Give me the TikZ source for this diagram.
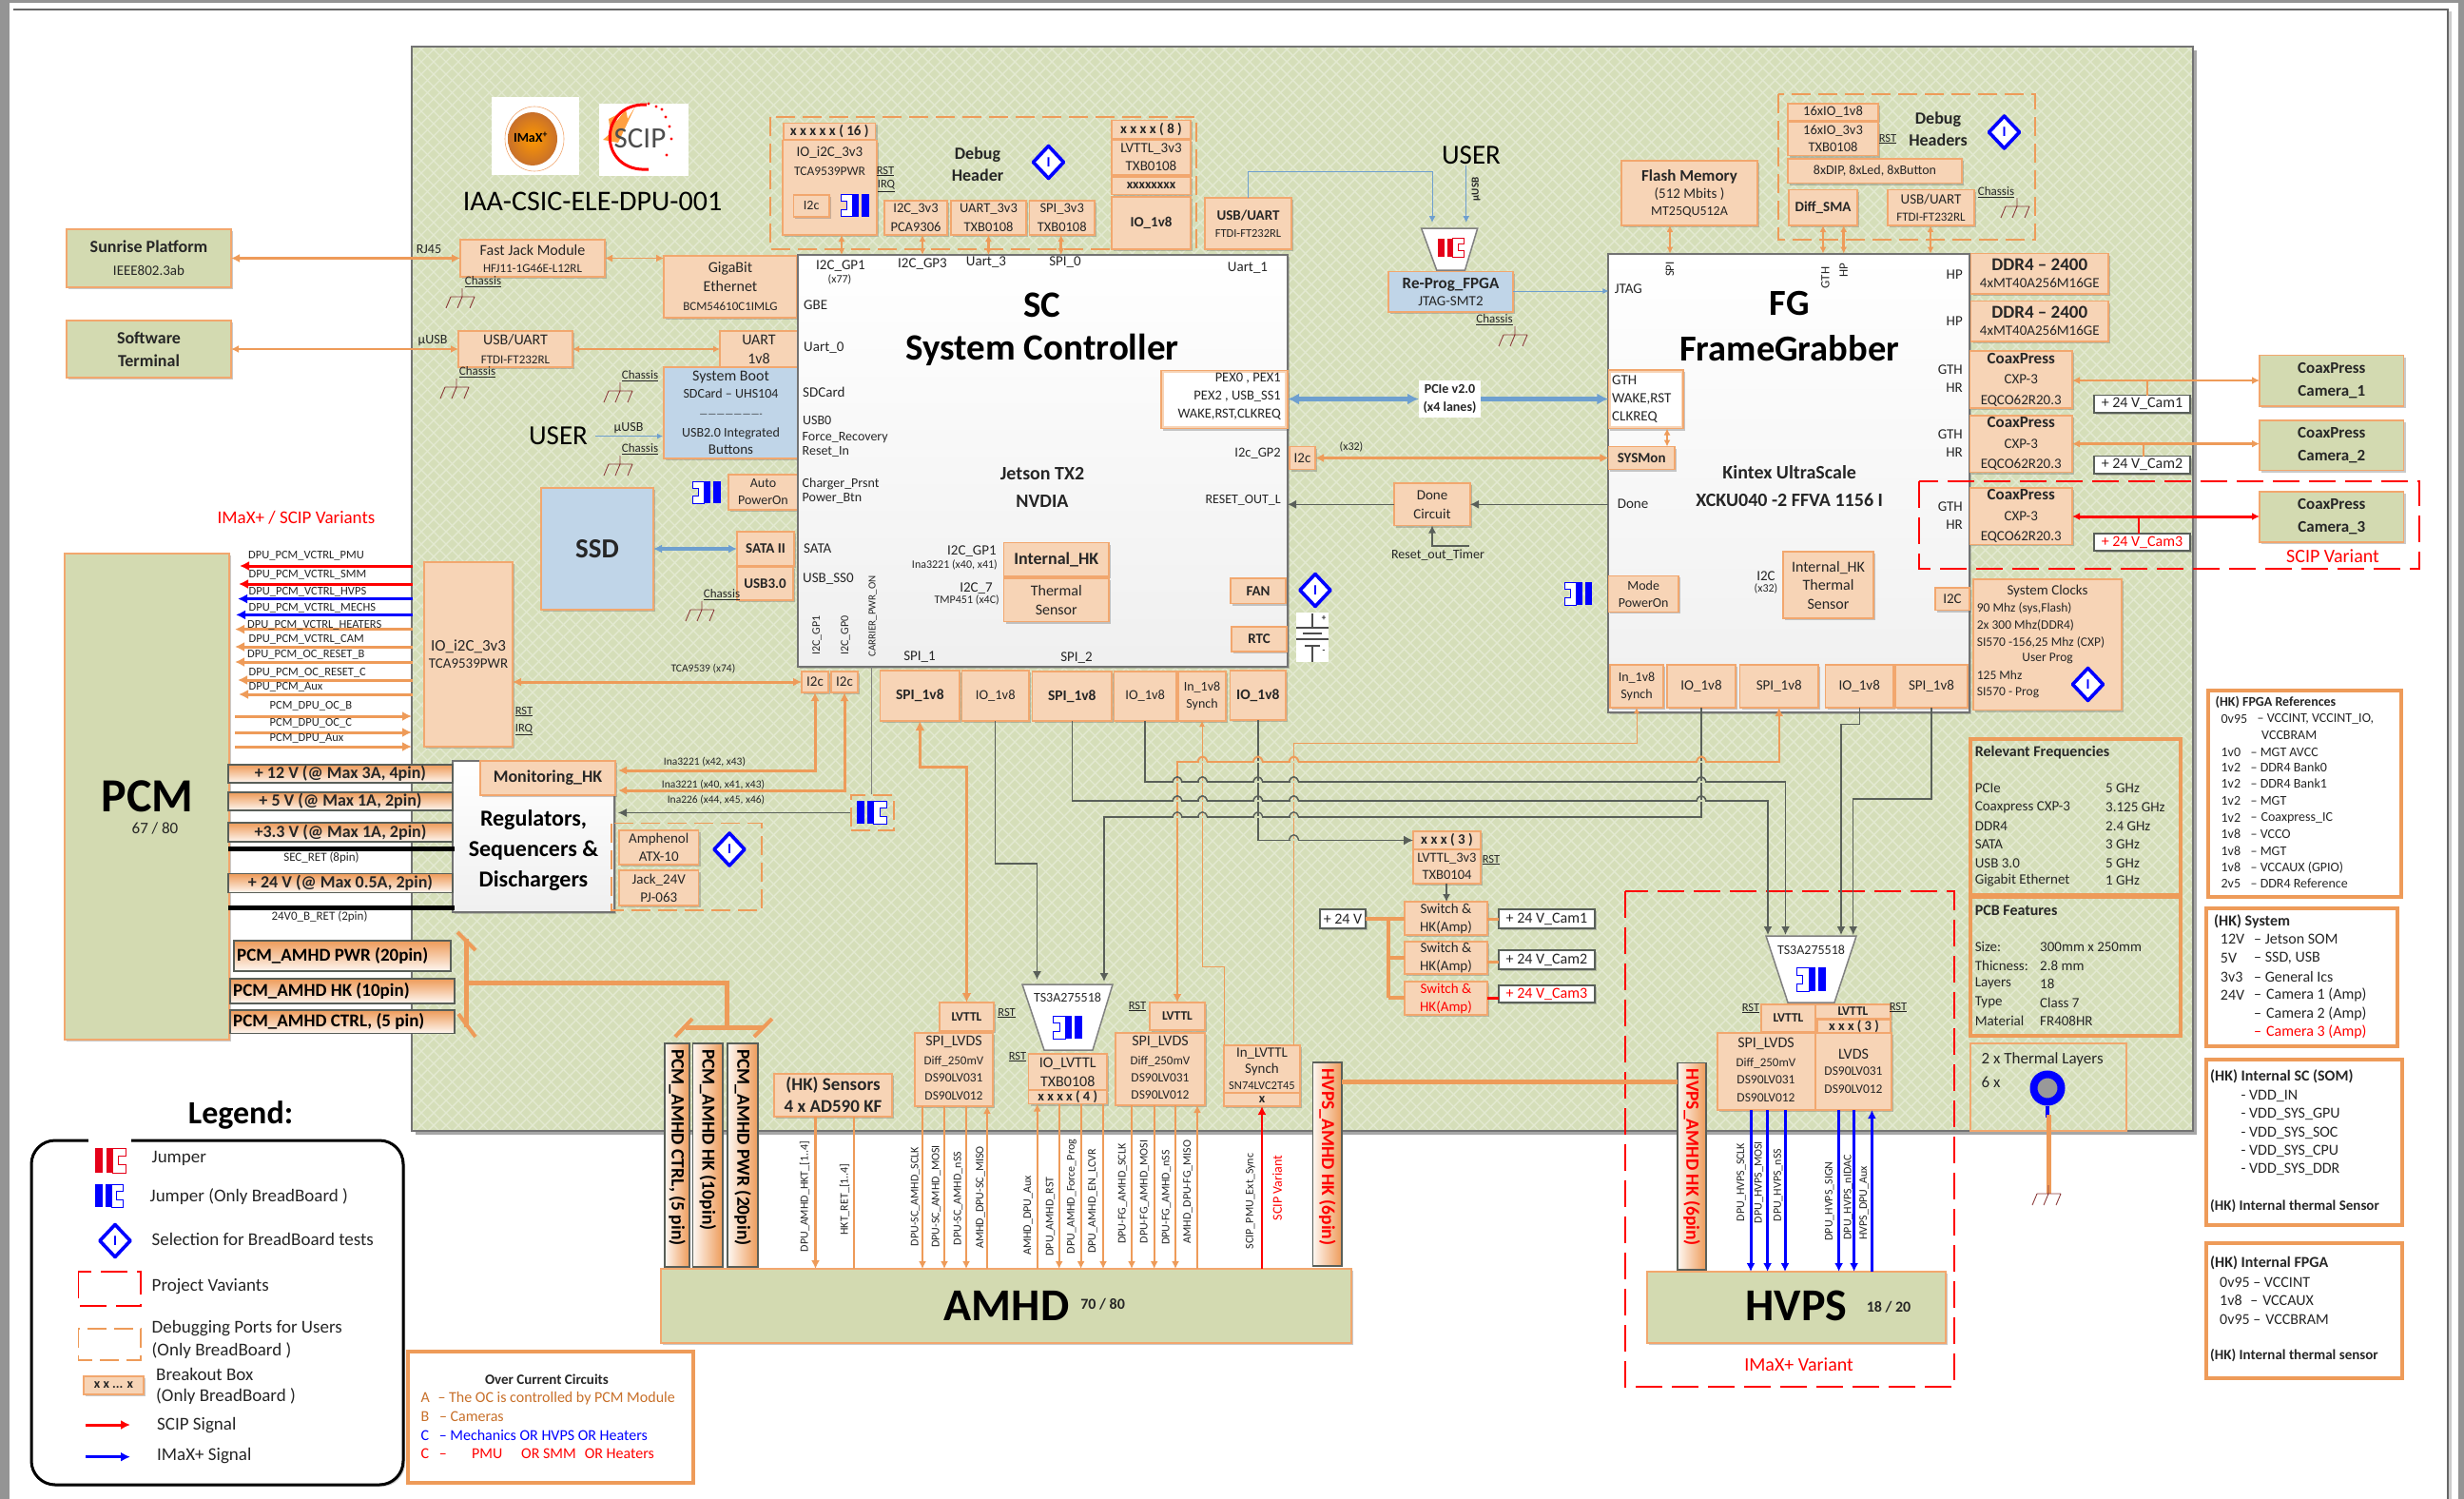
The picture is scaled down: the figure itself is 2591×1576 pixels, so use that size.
\documentclass[tikz,border=0pt]{standalone}
\usepackage{fontspec}
\setmainfont{Carlito}
\usetikzlibrary{arrows.meta,shadows}
\catcode`\_=12
\definecolor{ol}{HTML}{EE9B59}
\definecolor{obf}{HTML}{F7D4B6}
\definecolor{obd}{HTML}{F2A76E}
\definecolor{grn}{HTML}{D3DAB1}
\definecolor{bdg}{HTML}{D5DEB9}
\definecolor{lat}{HTML}{E3E9D1}
\definecolor{blu}{HTML}{C0D5E8}
\definecolor{pb}{HTML}{6E9FCF}
\definecolor{gk}{HTML}{595F59}
\definecolor{rd}{HTML}{FF0000}
\definecolor{bl}{HTML}{0000FF}
\definecolor{gndc}{HTML}{8B3A3A}
\definecolor{ogd}{HTML}{EE9B59}
\definecolor{brn}{HTML}{C8702A}
\newcounter{tc}
\tikzset{
 fs/.style 2 args={font=\fontsize{#1}{#2}\selectfont},
 fb/.style 2 args={font=\fontsize{#1}{#2}\selectfont\bfseries},
 txt/.style={inner sep=0pt,align=center,font=\fontsize{15}{18}\selectfont,text=black!85},
 shd/.style={drop shadow={shadow xshift=2pt,shadow yshift=-2pt,opacity=.35,fill=black!60}},
 bxb/.style={inner sep=0pt,outer sep=0pt,align=center,font=\fontsize{15}{18}\selectfont,text=black!85},
 obox/.style={bxb,draw=obd,fill=obf,line width=1.4pt,shd},
 gbox/.style={bxb,draw=obd,fill=grn,line width=1.4pt,shd},
 lbox/.style={bxb,draw=obd,fill=blu,line width=1.4pt,shd},
 wbox/.style={bxb,draw=gk,fill=white,line width=1.2pt,shd},
 rail/.style={bxb,draw=gk,line width=1.2pt,top color=ogd,bottom color=white!92!ogd},
 vrail/.style={bxb,draw=gk,line width=1.2pt,left color=white!92!ogd,right color=ogd},
 panel/.style={bxb,draw=ol,line width=4pt},
 chip/.style={bxb,draw=black!55,line width=2pt,top color=white,bottom color=black!6,shd},
 dashO/.style={draw=ol,line width=1.4pt,dash pattern=on 20pt off 8pt},
 dashR/.style={draw=rd,line width=1.4pt,dash pattern=on 28pt off 10pt},
 ah/.style={arrows={-{Latex[length=#1,width=#1]}}},
 ab/.style={arrows={{Latex[length=#1,width=#1]}-{Latex[length=#1,width=#1]}}},
 ta/.style={arrows={{Latex[length=#1,width=#1]}-}},
 co/.style={draw=ol,line width=#1},
 cg/.style={draw=gk,line width=#1},
 cr/.style={draw=rd,line width=#1},
 cb/.style={draw=bl,line width=#1},
 cp/.style={draw=pb,line width=#1},
}
\newcommand{\T}[4][]{\stepcounter{tc}\node[txt,#1] (t\arabic{tc}) at (#2,#3) {#4};}
\newcommand{\B}[7][obox]{\node[#1,minimum width={(#5-#3)*1pt},minimum height={(#6-#4)*1pt}] (#2) at ({(#3+#5)/2},{(#4+#6)/2}) {#7};}
\newcommand{\VC}[4][]{\draw[#1] (#2,0 |- #3) -- (#2,0 |- #4);}
\newcommand{\HC}[4][]{\draw[#1] (#3 |- 0,#2) -- (#4 |- 0,#2);}
\newcommand{\CN}[5][]{\stepcounter{tc}\coordinate (a\arabic{tc}) at (#2,#3);\coordinate (b\arabic{tc}) at (#4,#5);\draw[#1] (a\arabic{tc}) -- (b\arabic{tc});}
\newcommand{\gnd}[2]{\draw[gndc,line width=.9pt] (#1,#2) -- (#1,#2+9) (#1-12,#2+9) -- (#1+13,#2+9) (#1-12,#2+9) -- (#1-17,#2+21) (#1,#2+9) -- (#1-5,#2+21) (#1+13,#2+9) -- (#1+8,#2+21);}
\newcommand{\chas}[3]{\T[fs={13}{15}]{#1}{#2}{\underline{Chassis}}\gnd{#3}{#2+7}}
\newcommand{\lab}[3]{\T[fs={12.5}{15}]{#1}{#2}{\underline{#3}}}
\newcommand{\dia}[2]{\fill[white] (#1-16,#2) -- (#1,#2-17) -- (#1+16,#2) -- (#1,#2+17) -- cycle;
 \draw[bl,line width=3.6pt,line join=round] (#1-16,#2) -- (#1,#2-17) -- (#1+16,#2) -- (#1,#2+17) -- cycle;
 \T[fb={15}{15},text=bl]{#1}{#2}{I}}
\newcommand{\jmp}[6]{\begin{scope}[shift={({(#1+#3)/2},#2)},xscale={(#3-#1)*(#6)/100},yscale={(#4-#2)/100}]
 \fill[#5] (-50,0) rectangle (-24,100);\fill[#5] (-14,0) rectangle (8,100);
 \draw[#5,line width=1pt,fill=white] (8,0) -- (50,0) -- (50,32) -- (28,32) -- (28,68) -- (50,68) -- (50,100) -- (8,100) -- cycle;
 \end{scope}}
\newcommand{\bump}[4]{\draw[bdg,line width=#4pt] (#1-4,#2) -- (#1+4,#2);\draw[#3,line width=#4pt] (#1-5,#2) .. controls (#1-3,#2-7) and (#1+3,#2-7) .. (#1+5,#2);}
\begin{document}
\begin{tikzpicture}[x=1pt,y=-1pt]
\useasboundingbox (0,0) rectangle (2591,1576);
% page
\fill[black!42] (0,0) rectangle (2591,1576);
\fill[white] (10,3) rectangle (2585,1576);
\draw[black!60,line width=1.5pt] (14,10) -- (2574,10) -- (2574,1576);
\fill[black!20] (2575,12) rectangle (2578,1576);
% board
\fill[black!35] (437,53) rectangle (2310,1193);
\begin{scope}
\clip (433,49) rectangle (2306,1189);
\fill[bdg] (433,49) rectangle (2306,1189);
\foreach \k in {0,...,235}{
 \draw[lat,line width=1.4pt] (433+13*\k,49) -- ++(-1150,1150);
 \draw[lat,line width=1.4pt] (433-1150+13*\k,49) -- ++(1150,1150);
}
\end{scope}
\draw[black!55,line width=1.4pt] (433,49) rectangle (2306,1189);
% logos
\node[fill=white,inner sep=0pt,minimum width=92pt,minimum height=82pt] (imaxlogo) at (563,143) {};
\node[fill=white,inner sep=0pt,minimum width=94pt,minimum height=76pt] (sciplogo) at (677,147) {};
\draw[obd,line width=.6pt] (562,146) ellipse [x radius=31pt,y radius=34pt];
\shade[inner color=orange!80!yellow,outer color=brn] (560,146) ellipse [x radius=26pt,y radius=28pt];
\T[fb={14}{14},text=black]{558}{144}{IMaX\textsuperscript{+}}
\fill[orange!75] (640,125) -- (650,120) -- (648,128) -- (658,115) -- (660,125) -- (668,112) -- (650,150) -- (634,147) -- (642,140) -- cycle;
\draw[rd,line width=3pt] (680,110) .. controls (628,108) and (628,182) .. (682,178);
\foreach \a/\b in {682/109,690/112,696/115,700/123,704/133,706/146,701/163}{\fill[rd] (\a,\b) circle (1.6pt);}
\T[fs={31}{31},text=black!70]{673}{146}{SCIP}
\T[fs={30}{30},text=black]{623}{212}{IAA-CSIC-ELE-DPU-001}
% left external
\B[gbox,fb={18}{24}]{sunrise}{70}{241}{243}{302}{Sunrise Platform\\[0pt]\fontsize{15}{20}\selectfont\mdseries IEEE802.3ab}
\B[gbox,fb={18}{24}]{software}{70}{337}{243}{397}{Software\\Terminal}
\B{fastjack}{484}{252}{636}{291}{\fontsize{16}{19}\selectfont Fast Jack Module\\\fontsize{13}{18}\selectfont HFJ11-1G46E-L12RL}
\T[fs={14}{14}]{451}{262}{RJ45}
\chas{508}{296}{486}
\B[obox,fs={16}{20}]{gig}{698}{269}{838}{334}{GigaBit\\Ethernet\\\fontsize{13}{20}\selectfont BCM54610C1IMLG}
\B[obox,fs={16}{20}]{usbL}{482}{348}{602}{386}{USB/UART\\\fontsize{13}{20}\selectfont FTDI-FT232RL}
\B[obox,fs={16}{20}]{uart}{757}{348}{839}{386}{UART\\1v8}
\T[fs={14}{14}]{455}{358}{µUSB}
\chas{502}{391}{480}
\chas{673}{395}{652}
\chas{673}{472}{652}
\B[lbox]{boot}{698}{386}{839}{482}{\fontsize{16}{19}\selectfont System Boot\\\fontsize{14}{18}\selectfont SDCard – UHS104\\[2pt]\fontsize{10}{14}\selectfont ----------------------\\[3pt]\fontsize{14}{17}\selectfont USB2.0 Integrated\\\fontsize{15}{19}\selectfont Buttons}
\T[fs={29}{29},text=black]{587}{458}{USER}
\T[fs={14}{14}]{661}{450}{µUSB}
\CN[cp=1pt,ah=6pt]{626}{458.6}{697}{458.6}
\jmp{728}{506}{758}{529}{bl}{-1}
\B[obox,fs={14}{18}]{auto}{766}{499}{839}{536}{Auto\\PowerOn}
\B[lbox,fb={29}{29}]{ssd}{569}{513}{687}{641}{SSD}
\B[obox,fb={15}{15}]{sata}{775}{559}{835}{595}{SATA II}
\B[obox,fb={15}{15}]{usb3}{775}{596}{834}{631}{USB3.0}
\draw[cp=4pt,ab=9pt] (ssd.east |- sata.west) -- (sata.west);
\chas{759}{625}{738}
\T[fs={19}{19},text=rd]{311.5}{544.6}{IMaX+ / SCIP Variants}
\draw[co=3pt,ab=9pt] (sunrise.east) -- (fastjack.west);
\draw[co=1.5pt,ab=8pt] (fastjack.east) -- (fastjack.east -| gig.west);
\draw[co=2pt,ab=8pt] (software.east) -- (usbL.west);
\draw[co=1.2pt,ab=7pt] (usbL.east) -- (uart.west);
% PCM
\B[gbox]{pcm}{68}{582}{241}{1093}{}
\T[fb={50}{50},text=black]{155}{837}{PCM}
\T[fs={17}{17}]{163}{871}{67 / 80}
\B{iobig}{446}{591}{539}{785}{\fontsize{17}{22}\selectfont IO_i2C_3v3\\\fontsize{15}{20}\selectfont TCA9539PWR}
\lab{551}{748}{RST}
\lab{551}{767}{IRQ}
\newcommand{\SG}[6]{\CN[#1=3pt,ah=10pt]{434}{#3}{#2}{#3}\T[fs={12.5}{15},anchor=west]{#4}{#5}{#6}}
\SG{cr}{252}{595}{261}{584.5}{DPU_PCM_VCTRL_PMU}
\SG{cr}{251}{614}{261.5}{604}{DPU_PCM_VCTRL_SMM}
\SG{cb}{250}{629.6}{261.5}{622.7}{DPU_PCM_VCTRL_HVPS}
\SG{cb}{248}{646.4}{261.5}{639}{DPU_PCM_VCTRL_MECHS}
\SG{co}{247}{661.6}{260}{656.8}{DPU_PCM_VCTRL_HEATERS}
\SG{co}{247}{680}{261.5}{672}{DPU_PCM_VCTRL_CAM}
\SG{co}{247}{696}{260}{688.5}{DPU_PCM_OC_RESET_B}
\SG{co}{250}{715}{261.5}{707}{DPU_PCM_OC_RESET_C}
\SG{co}{251}{730}{261.5}{722.6}{DPU_PCM_Aux}
\newcommand{\SR}[3]{\CN[co=3pt,ah=10pt]{247}{#1}{433}{#1}\T[fs={12.5}{15},anchor=west]{283.5}{#2}{#3}}
\SR{753}{742}{PCM_DPU_OC_B}
\SR{770}{760}{PCM_DPU_OC_C}
\SR{785}{776}{PCM_DPU_Aux}
% regulators
\B[chip]{reg}{476}{800}{646}{959}{}
\T[fb={24}{32},text=black]{561}{894.5}{Regulators,\\Sequencers \&\\Dischargers}
\B[obox,fb={18}{18}]{mon}{505}{800}{647}{836}{Monitoring_HK}
\newcommand{\RL}[4]{\B[rail,fb={18}{18}]{#1}{240}{#2}{476}{#3}{#4}}
\RL{r12}{804}{823}{+ 12 V (@ Max 3A, 4pin)}
\RL{r5}{833}{852}{+ 5 V (@ Max 1A, 2pin)}
\RL{r33}{865}{885}{+3.3 V (@ Max 1A, 2pin)}
\RL{r24}{918.5}{938.5}{+ 24 V (@ Max 0.5A, 2pin)}
\CN[draw=black,line width=5pt]{240}{892}{478}{892}
\T[fs={13}{15}]{338}{902}{SEC_RET (8pin)}
\CN[draw=black,line width=5.5pt]{240}{954.6}{478}{954.6}
\T[fs={13}{15}]{336}{963.6}{24V0_B_RET (2pin)}
\B[rail]{apwr}{246}{989}{474}{1021}{}
\T[fb={19}{19},anchor=west,text=black]{249}{1005}{PCM_AMHD PWR (20pin)}
\B[rail]{ahk}{242}{1029}{478}{1055}{}
\T[fb={19}{19},anchor=west,text=black]{245}{1042}{PCM_AMHD HK  (10pin)}
\B[rail]{actrl}{242}{1062}{478}{1086.5}{}
\T[fb={19}{19},anchor=west,text=black]{245}{1074}{PCM_AMHD CTRL, (5 pin)}
\draw[co=5pt] (490,987) -- (490,1080);
\draw[co=4pt] (481,980) -- (500,999) (482,1066) -- (500,1090);
\draw[co=5pt] (490,1033) -- (764,1033) -- (764,1080);
\draw[co=5pt] (721,1080) -- (802,1080);
\draw[co=4pt] (728,1071) -- (710,1090) (812,1071) -- (793,1090);
% amphenol
\draw[dashO] (643,865.5) rectangle (801,957);
\B[obox,fs={15}{19}]{amp}{651}{873}{734.5}{909}{Amphenol\\ATX-10}
\B[obox,fs={15}{19}]{jack}{651}{915}{734.5}{952}{Jack_24V\\PJ-063}
\dia{767}{893}
% SC
\B[chip]{sc}{838.5}{268}{1354}{701}{}
% debug header
\draw[dashO] (810,123) rectangle (1258,262);
\B[obox,fb={15}{15}]{x16}{824}{129.5}{920.5}{147}{x x x x x ( 16 )}
\B{iodbg}{823}{147.6}{922}{247}{}
\T[fs={15}{18}]{872.5}{160}{IO_i2C_3v3}
\T[fs={13.5}{16}]{872.5}{180}{TCA9539PWR}
\B[obox,fs={14}{14}]{i2cd}{834.4}{205}{872}{228}{I2c}
\jmp{884}{204}{914}{228}{bl}{-1}
\lab{931}{180}{RST}
\lab{932}{195.5}{IRQ}
\T[fb={18}{23},text=black!85]{1028}{172.5}{Debug\\Header}
\dia{1102.5}{170.5}
\B[obox,fs={14.5}{20}]{d1}{930}{211}{996}{247}{I2C_3v3\\PCA9306}
\B[obox,fs={14.5}{20}]{d2}{1000}{211}{1079}{247}{UART_3v3\\TXB0108}
\B[obox,fs={14.5}{20}]{d3}{1082.4}{211}{1151}{247}{SPI_3v3\\TXB0108}
\B[obox,fb={15}{15}]{x8}{1169}{126.5}{1252}{145.5}{x x x x ( 8 )}
\B[obox,fs={15}{19}]{lv33}{1169}{147}{1252}{184}{LVTTL_3v3\\TXB0108}
\B[obox,fb={14}{14}]{x88}{1169}{186}{1252}{204.4}{xxxxxxxx}
\B[obox,fb={15}{15}]{io18}{1169}{207}{1252}{262}{IO_1v8}
\B{usbD}{1267}{208}{1358}{262}{\fontsize{15}{20}\selectfont\bfseries USB/UART\\\fontsize{12.5}{18}\selectfont FTDI-FT232RL}
\VC[co=2.5pt,ab=7pt]{885}{iodbg.south}{sc.north}
\VC[co=2.5pt,ab=7pt]{970}{d1.south}{sc.north}
\VC[co=2.5pt,ab=7pt]{1039.4}{d2.south}{sc.north}
\VC[co=2.5pt,ab=7pt]{1115.7}{d3.south}{sc.north}
% sc text
\T{884}{280}{I2C_GP1}
\T[fs={12}{14}]{883}{294}{(x77)}
\T{970}{278}{I2C_GP3}
\T{1037}{276}{Uart_3}
\T{1120}{276}{SPI_0}
\T{1312}{282}{Uart_1}
\T[anchor=west]{845}{321}{GBE}
\T[anchor=west]{845}{366}{Uart_0}
\T[anchor=west]{844}{412}{SDCard}
\T[anchor=west,fs={14}{16}]{844}{442}{USB0}
\T[anchor=west,fs={14}{16}]{843.5}{460}{Force_Recovery}
\T[anchor=west,fs={14}{16}]{843.5}{475}{Reset_In}
\T[anchor=west,fs={14}{16}]{843.5}{509}{Charger_Prsnt}
\T[anchor=west,fs={14}{16}]{843.5}{524}{Power_Btn}
\T[anchor=west]{845}{577}{SATA}
\T[anchor=west]{844}{609}{USB_SS0}
\T[fb={39}{39},text=black]{1096}{321}{SC}
\T[fb={39}{39},text=black]{1096}{368}{System Controller}
\T[fb={20}{20}]{1096}{498}{Jetson TX2}
\T[fb={20}{20}]{1096}{527}{NVDIA}
\T[rotate=90,fs={12}{12}]{859}{668}{I2C_GP1}
\T[rotate=90,fs={12}{12}]{889}{668}{I2C_GP0}
\T[rotate=90,fs={11}{11}]{917.7}{648}{CARRIER_PWR_ON}
\T{967}{691}{SPI_1}
\T{1132}{692}{SPI_2}
\T[anchor=east]{1048}{580}{I2C_GP1}
\T[anchor=east,fs={12}{14}]{1049}{594}{Ina3221 (x40, x41)}
\T[anchor=east]{1044}{618.5}{I2C_7}
\T[anchor=east,fs={12}{14}]{1051}{631}{TMP451 (x4C)}
\B[obox,fb={18}{18}]{ihk}{1055.5}{570.5}{1166}{606}{Internal_HK}
\B[obox,fs={16}{20}]{tsen}{1055.5}{608}{1166}{653.5}{Thermal\\Sensor}
\B[obox,fb={15}{15}]{fan}{1294}{608}{1352}{634.5}{FAN}
\B[obox,fb={15}{15}]{rtc}{1295}{659}{1353}{685}{RTC}
\dia{1383}{620.5}
\fill[white] (1362.6,644) rectangle (1397,696);
\draw[black!70,line width=1.2pt] (1380,645) -- (1380,660) (1363,660) -- (1397,660) (1370,666) -- (1390,666) (1363,672) -- (1397,672) (1372,679) -- (1388,679) (1380,679) -- (1380,696);
\T[fb={9}{9}]{1392}{650}{+}
\T[fb={9}{9}]{1392}{685}{-}
\B[obox]{pex}{1221}{389.6}{1354}{450.6}{}
\fill[white] (1224,392) rectangle (1351,448);
\T[anchor=east,fs={14.5}{17}]{1347}{398}{PEX0 , PEX1}
\T[anchor=east,fs={14.5}{17}]{1347}{416.5}{PEX2 , USB_SS1}
\T[anchor=east,fs={14.5}{17}]{1347}{436}{WAKE,RST,CLKREQ}
\T[anchor=east,fs={14.5}{17}]{1347}{477}{I2c_GP2}
\T[anchor=east,fs={14}{17}]{1347}{526}{RESET_OUT_L}
\B[obox,fs={15}{15}]{i2cS}{1356}{469.5}{1383}{493.5}{I2c}
\B[obox,fs={15}{15}]{i2c1}{843}{706}{871}{728}{I2c}
\B[obox,fs={15}{15}]{i2c2}{874}{706}{902}{728}{I2c}
\B[obox,fb={15.5}{15.5}]{spiA}{925.7}{705}{1009}{758}{SPI_1v8}
\B[obox,fs={14.5}{14.5}]{ioA}{1011.5}{705}{1082}{758}{IO_1v8}
\B[obox,fb={15.5}{15.5}]{spiB}{1085.6}{706}{1169}{758}{SPI_1v8}
\B[obox,fs={14.5}{14.5}]{ioB}{1171.4}{706}{1237}{758}{IO_1v8}
\B[obox,fs={14}{18}]{inS}{1239}{706}{1289}{758}{In_1v8\\Synch}
\B[obox,fb={15.5}{15.5}]{ioC}{1293.6}{705}{1352}{757}{IO_1v8}
% FG
\B[chip]{fg}{1691.4}{266.6}{2071}{748.7}{}
\B{flash}{1705}{169}{1848}{237}{\fontsize{17}{22}\selectfont\bfseries Flash Memory\\\fontsize{15}{22}\selectfont (512 Mbits )\\\fontsize{14}{22}\selectfont MT25QU512A}
\draw[dashO] (1870,99) rectangle (2140,252);
\B[obox,fs={14.5}{14.5}]{g1}{1880}{109}{1975}{127}{16xIO_1v8}
\B[obox,fs={14.5}{18}]{g2}{1880}{128}{1975}{163.5}{16xIO_3v3\\TXB0108}
\lab{1985}{146}{RST}
\T[fb={18}{23},text=black!85]{2038}{136}{Debug\\Headers}
\dia{2107.5}{139}
\B[obox,fs={14}{14}]{g3}{1880}{167}{2063}{192.5}{8xDIP, 8xLed, 8xButton}
\B[obox,fb={15}{15}]{diff}{1881}{199.6}{1953}{237}{Diff_SMA}
\B{usbF}{1985}{199.6}{2076}{237}{\fontsize{15}{19}\selectfont USB/UART\\\fontsize{13}{19}\selectfont FTDI-FT232RL}
\T[fs={13}{15}]{2099}{202}{\underline{Chassis}}
\gnd{2121}{208}
\VC[co=2.5pt,ab=7pt]{1756}{flash.south}{fg.north}
\VC[co=2.5pt,ab=7pt]{1917}{diff.south}{fg.north}
\VC[co=2.5pt,ab=7pt]{1938.7}{diff.south}{fg.north}
\VC[co=2.5pt,ab=7pt]{2030}{usbF.south}{fg.north}
\T[rotate=90,fs={13}{13}]{1756}{283}{SPI}
\T[rotate=90,fs={13}{13}]{1919.5}{292}{GTH}
\T[rotate=90,fs={13}{13}]{1938.7}{284.5}{HP}
\T{1712.4}{304}{JTAG}
\T[anchor=east]{2064}{289}{HP}
\T[anchor=east]{2064}{338}{HP}
\T[fb={38.5}{38.5},text=black]{1881.7}{319}{FG}
\T[fb={38.5}{38.5},text=black]{1881.7}{366.6}{FrameGrabber}
\B[obox]{gth}{1691.4}{389}{1770}{450.5}{}
\fill[white] (1694,391.5) rectangle (1767.5,448);
\T[anchor=west]{1695}{399.6}{GTH}
\T[anchor=west]{1695}{419.7}{WAKE,RST}
\T[anchor=west]{1695}{438.5}{CLKREQ}
\B[obox,fb={15}{15}]{sysmon}{1691.4}{469.5}{1761}{493.5}{SYSMon}
\VC[co=2.5pt,ab=7pt]{1753}{gth.south}{sysmon.north}
\T[fb={20}{20}]{1881.7}{496.5}{Kintex UltraScale}
\T[fb={20}{20}]{1881.7}{525.5}{XCKU040 -2 FFVA 1156 I}
\T{1717}{529.5}{Done}
\B[obox,fs={14}{18}]{mode}{1691.4}{605.4}{1765}{643.4}{Mode\\PowerOn}
\jmp{1645.6}{612}{1674}{636}{bl}{-1}
\T{1857}{605.4}{I2C}
\T[fs={12}{14}]{1857}{619}{(x32)}
\B[obox,fs={16}{19.5}]{ihkF}{1875}{580}{1970}{650}{Internal_HK\\Thermal\\Sensor}
\B[obox,fs={15}{15}]{i2cF}{2035}{618}{2071}{641.6}{I2C}
\B{clk}{2075}{609}{2231}{746.5}{}
\T[fs={15}{15}]{2153}{621.5}{System Clocks}
\T[anchor=west,fs={13.5}{15}]{2078.6}{640}{90 Mhz (sys,Flash)}
\T[anchor=west,fs={13.5}{15}]{2078.6}{657}{2x 300 Mhz(DDR4)}
\T[anchor=west,fs={13.5}{15}]{2078.6}{675}{SI570 -156,25 Mhz (CXP)}
\T[fs={13.5}{15}]{2153}{692.5}{User Prog}
\T[anchor=west,fs={13.5}{15}]{2078.6}{710}{125 Mhz}
\T[anchor=west,fs={13.5}{15}]{2078.6}{728.6}{SI570 - Prog}
\dia{2195.5}{719.5}
\B[obox,fs={14}{18}]{fgin}{1693}{699}{1749}{744}{In_1v8\\Synch}
\B[obox,fs={15}{15}]{fgio1}{1753}{699}{1825}{744}{IO_1v8}
\B[obox,fs={15}{15}]{fgspi1}{1829.5}{699}{1912}{744}{SPI_1v8}
\B[obox,fs={15}{15}]{fgio2}{1919.5}{699}{1991}{744}{IO_1v8}
\B[obox,fs={15}{15}]{fgspi2}{1993}{699}{2069}{744}{SPI_1v8}
\B{ddr1}{2072.6}{266.6}{2217}{309}{\fontsize{19}{23}\selectfont\bfseries DDR4 – 2400\\\fontsize{15}{23}\selectfont 4xMT40A256M16GE}
\B{ddr2}{2072.6}{316.6}{2217}{359}{\fontsize{19}{24}\selectfont\bfseries DDR4 – 2400\\\fontsize{15}{24}\selectfont 4xMT40A256M16GE}
\newcommand{\CX}[3]{\B[obox,fs={15}{21.5}]{#1}{2071.4}{#2}{2179}{#3}{\fontsize{17}{21.5}\selectfont\bfseries CoaxPress\\CXP-3\\EQCO62R20.3}\T[anchor=east]{2064}{#2+20}{GTH}\T[anchor=east]{2064}{#2+39}{HR}}
\CX{cx1}{369}{429}
\CX{cx2}{437}{496.5}
\CX{cx3}{513}{572.4}
\newcommand{\CC}[4]{\B[gbox,fb={17}{24}]{#1}{2376}{#2}{2527.6}{#3}{CoaxPress\\#4}}
\CC{cam1}{373.7}{427}{Camera_1}
\CC{cam2}{442}{494.7}{Camera_2}
\CC{cam3}{517}{570}{Camera_3}
\B[wbox,fs={16}{16}]{v1}{2202}{415.7}{2303}{434}{+ 24 V_Cam1}
\B[wbox,fs={16}{16}]{v2}{2202}{479.6}{2303}{498}{+ 24 V_Cam2}
\B[wbox,fs={16}{16},text=rd]{v3}{2202}{561}{2303}{579}{+ 24 V_Cam3}
\HC[co=2.5pt,ab=8pt]{400}{cx1.east}{cam1.west}
\HC[co=2.5pt,ab=8pt]{466.6}{cx2.east}{cam2.west}
\HC[cr=3pt,ab=8pt]{543}{cx3.east}{cam3.west}
\VC[co=1.5pt]{2258}{v1.north}{0,400}
\VC[co=1.5pt]{2254}{v2.north}{0,466.6}
\VC[cr=2.5pt]{2249}{v3.north}{0,543}
\draw[dashR] (2018,506) rectangle (2544,598);
\T[fs={20}{20},text=rd]{2453}{584.5}{SCIP Variant}
% centre
\node[bxb,fill=white,fb={14}{19},minimum width=65pt,minimum height=39pt] (wl) at (1524.5,419.5) {PCIe v2.0\\(x4 lanes)};
\draw[cp=5pt,ab=12pt] (sc.east |- wl.west) -- (wl.west);
\draw[cp=5pt,ta=12pt] (fg.west |- wl.east) -- (wl.east);
\draw[co=3pt,ab=9pt] (i2cS.east) -- (sysmon.west);
\T[fs={12}{14}]{1421}{470}{(x32)}
\B[obox,fs={15}{20}]{done}{1466}{508}{1546}{552.5}{Done\\Circuit}
\HC[cg=1.2pt,ah=9pt]{530.3}{done.west}{sc.east}
\HC[cg=1.2pt,ah=9pt]{530.3}{fg.west}{done.east}
\coordinate (tm) at (1545,574);
\draw[cg=1.2pt,ah=8pt] (tm) -| (done.south);
\T[fs={14}{16}]{1512}{584}{Reset_out_Timer}
% reprog
\coordinate (tpA) at (1506,234);
\coordinate (tpB) at (1541.7,234);
\coordinate (tpU) at (1541.7,174);
\fill[white,draw=black!50,line width=1.5pt] (1494.6,240) -- (1553.7,240) -- (1540.5,284) -- (1510.7,284) -- cycle;
\jmp{1512}{250.7}{1539}{270}{rd!90!blue}{1}
\B[lbox]{repro}{1460}{285.6}{1591}{328}{\fontsize{17}{24}\selectfont\bfseries Re-Prog_FPGA\\\fontsize{15}{22}\selectfont JTAG-SMT2}
\draw[cp=1pt,ah=7pt] (usbD.north) |- (1506,180) -- (tpA);
\draw[cp=1pt,ah=7pt] (tpU) -- (tpB);
\T[rotate=90,fb={11}{11}]{1552}{199}{µUSB}
\T[fs={29}{29},text=black]{1547}{163}{USER}
\HC[cp=1pt,ah=6pt]{306}{repro.east}{fg.west}
\T[fs={13}{15}]{1571.5}{336.5}{\underline{Chassis}}
\gnd{1593}{343}
% lower boxes left
\B[obox,fb={13.5}{13.5}]{lvL}{988}{1054}{1045}{1084}{LVTTL}
\lab{1058.6}{1065}{RST}
\B{spiL}{962}{1086}{1044}{1163}{}
\T[fs={16}{16}]{1003}{1095}{SPI_LVDS}
\T[fs={13}{15}]{1003}{1116}{Diff_250mV}
\T[fs={13.5}{15}]{1003}{1133}{DS90LV031}
\T[fs={13.5}{15}]{1003}{1152}{DS90LV012}
\fill[white,draw=black!50,line width=1.5pt] (1075,1035) -- (1170,1035) -- (1149,1104) -- (1098,1104) -- cycle;
\T[fs={14}{14}]{1122.5}{1049}{TS3A275518}
\jmp{1107.6}{1068}{1138}{1092}{bl}{-1}
\B[obox,fs={16}{20}]{ioL}{1081.5}{1108}{1164}{1146}{IO_LVTTL\\TXB0108}
\lab{1070}{1111}{RST}
\B[obox,fb={14.5}{14.5}]{xx4}{1081.5}{1146.6}{1164}{1160.6}{x x x x ( 4 )}
\B{spiR}{1173}{1086}{1267}{1162}{}
\T[fs={16}{16}]{1220}{1095}{SPI_LVDS}
\T[fs={13}{15}]{1220}{1116}{Diff_250mV}
\T[fs={13.5}{15}]{1220}{1133}{DS90LV031}
\T[fs={13.5}{15}]{1220}{1151}{DS90LV012}
\B[obox,fb={13.5}{13.5}]{lvR}{1209}{1054}{1267}{1083}{LVTTL}
\lab{1196}{1058}{RST}
\B[obox,fs={15}{17}]{inL}{1287}{1099}{1367}{1149}{In_LVTTL\\Synch\\\fontsize{12.5}{18}\selectfont SN74LVC2T45}
\B[obox,fb={14}{14}]{xx1}{1287}{1149}{1367}{1163}{x}
\B[obox,fb={19}{23}]{sens}{814}{1129}{938}{1174}{(HK) Sensors\\4 x AD590 KF}
% switch area
\B[obox,fb={15}{15}]{xx3}{1486}{874}{1557}{893}{x x x ( 3 )}
\B[obox,fs={14.5}{18}]{tb}{1486}{893}{1557}{929}{LVTTL_3v3\\TXB0104}
\lab{1568}{904}{RST}
\B[obox,fs={15}{19}]{sw1}{1477}{948}{1564}{983}{Switch \&\\HK(Amp)}
\B[obox,fs={15}{19}]{sw2}{1477}{990}{1564}{1024}{Switch \&\\HK(Amp)}
\B[obox,fs={15}{19},text=rd]{sw3}{1477}{1032}{1564}{1067}{Switch \&\\HK(Amp)}
\B[wbox,fs={16}{16}]{v24}{1388}{956}{1436}{976}{+ 24 V}
\B[wbox,fs={16}{16}]{c1}{1576}{956}{1677}{976}{+ 24 V_Cam1}
\B[wbox,fs={16}{16}]{c2}{1576}{999}{1677}{1019}{+ 24 V_Cam2}
\B[wbox,fs={16}{16},text=rd]{c3}{1576}{1036}{1677}{1054}{+ 24 V_Cam3}
\VC[cg=1.2pt,ah=8pt]{1521}{tb.south}{sw1.north}
\HC[co=4pt]{965.7}{v24.east}{sw1.west}
\draw[co=4pt] (1459.7,965.7) -- (1459.7,1049);
\HC[co=4pt]{1006.7}{1459.7,0}{sw2.west}
\HC[co=4pt]{1049}{1459.7,0}{sw3.west}
\HC[co=3pt]{966}{sw1.east}{c1.west}
\HC[co=3pt]{1011}{sw2.east}{c2.west}
\HC[cr=3pt]{1049}{sw3.east}{c3.west}
% hvps side
\draw[dashR] (1709,937) rectangle (2055,1458);
\fill[white,draw=black!50,line width=1.5pt] (1857,984) -- (1952,984) -- (1929,1054) -- (1880,1054) -- cycle;
\T[fs={14}{14}]{1904.5}{999}{TS3A275518}
\jmp{1889}{1017}{1920}{1042}{bl}{-1}
\coordinate (tsA1) at (1090.5,1030);
\coordinate (tsA2) at (1161,1032);
\coordinate (tsB1) at (1859,983);
\coordinate (tsB2) at (1877.5,983);
\coordinate (tsB3) at (1936,983);
\coordinate (tsB4) at (1948.7,983);
\B[obox,fb={13.5}{13.5}]{lvH1}{1852}{1056}{1909}{1085}{LVTTL}
\B[obox,fb={13.5}{13.5}]{lvH2}{1909}{1056}{1988}{1071}{LVTTL}
\B[obox,fb={14.5}{14.5}]{xxH}{1911}{1072}{1988}{1086}{x x x ( 3 )}
\lab{1841}{1060}{RST}
\lab{1996}{1059}{RST}
\B{spiH}{1806}{1086}{1909}{1167}{}
\T[fs={16}{16}]{1857}{1097}{SPI_LVDS}
\T[fs={13}{15}]{1857}{1118}{Diff_250mV}
\T[fs={13.5}{15}]{1857}{1135}{DS90LV031}
\T[fs={13.5}{15}]{1857}{1154}{DS90LV012}
\B{lvdH}{1909}{1086}{1989}{1167}{}
\T[fs={16}{16}]{1949}{1108}{LVDS}
\T[fs={13.5}{15}]{1949}{1126}{DS90LV031}
\T[fs={13.5}{15}]{1949}{1145}{DS90LV012}
% AMHD / HVPS
\B[gbox]{amhd}{695}{1334}{1421}{1412}{}
\T[fb={48}{48},text=black]{1058.6}{1373}{AMHD}
\T[fb={16}{16}]{1159.6}{1371}{70 / 80}
\B[gbox]{hvps}{1732}{1337}{2046}{1412}{}
\T[fb={48}{48},text=black]{1889}{1373}{HVPS}
\T[fb={16}{16}]{1986}{1374}{18 / 20}
\T[fs={20}{20},text=rd]{1891.6}{1435}{IMaX+ Variant}
\newcommand{\VB}[7]{\B[vrail]{#1}{#2}{#3}{#4}{#5}{}\T[rotate=-90,anchor=west,fb={19.5}{19.5},#6]{#2/2+#4/2}{#3+6}{#7}}
\VB{vctrl}{699}{1097}{725}{1332}{text=black}{PCM_AMHD CTRL, (5 pin)}
\VB{vhk}{728.5}{1097}{760}{1332}{text=black}{PCM_AMHD HK  (10pin)}
\VB{vpwr}{765}{1097}{797}{1332}{text=black}{PCM_AMHD PWR (20pin)}
\VB{vh1}{1380.5}{1117}{1411}{1331}{text=rd}{HVPS_AMHD HK  (6pin)}
\VB{vh2}{1764}{1117.5}{1794}{1335}{text=rd}{HVPS_AMHD HK  (6pin)}
\draw[co=5pt] (vh1.east |- 0,1137.5) -- (vh2.west |- 0,1137.5);
% rotated signal labels
\newcommand{\RT}[3]{\T[rotate=90,fs={12}{12}]{#1}{#2}{#3}}
\RT{846}{1258}{DPU_AMHD_HKT_[1..4]}
\RT{888}{1261}{HKT_RET_[1..4]}
\RT{962.6}{1258}{DPU-SC_AMHD_SCLK}
\RT{984.6}{1258}{DPU-SC_AMHD_MOSI}
\RT{1007.5}{1260}{DPU-SC_AMHD_nSS}
\RT{1031}{1259}{AMHD_DPU-SC_MISO}
\RT{1081}{1278}{AMHD_DPU_Aux}
\RT{1104.5}{1279}{DPU_AMHD_RST}
\RT{1127}{1258}{DPU_AMHD_Force_Prog}
\RT{1149}{1263}{DPU_AMHD_EN_LCVR}
\RT{1180.5}{1255}{DPU-FG_AMHD_SCLK}
\RT{1203.5}{1253}{DPU-FG_AMHD_MOSI}
\RT{1226.4}{1259}{DPU-FG_AMHD_nSS}
\RT{1249}{1253}{AMHD_DPU-FG_MISO}
\RT{1315}{1263}{SCIP_PMU_Ext_Sync}
\T[rotate=90,fs={14}{14},text=rd]{1343}{1249}{SCIP Variant}
\RT{1831}{1243}{DPU_HVPS_SCLK}
\RT{1849.6}{1243}{DPU_HVPS_MOSI}
\RT{1869.7}{1246}{DPU_HVPS_nSS}
\RT{1923.7}{1263}{DPU_HVPS_SIGN}
\RT{1943.4}{1259}{DPU_HVPS_nIDAC}
\RT{1960}{1265}{HVPS_DPU_Aux}
\VC[co=2.5pt,ah=9pt]{857.5}{sens.south}{amhd.north}
\VC[co=2.5pt]{898}{sens.south}{amhd.north}
\foreach \x in {970,993,1016}{\VC[co=2pt,ah=8pt]{\x}{spiL.south}{amhd.north}}
\VC[co=2pt,ah=8pt]{1038}{amhd.north}{spiL.south}
\VC[co=2pt,ah=8pt]{1090.7}{amhd.north}{xx4.south}
\foreach \x in {1113.7,1136.6,1160}{\VC[co=2pt,ah=8pt]{\x}{xx4.south}{amhd.north}}
\foreach \x in {1190,1213.7,1236}{\VC[co=2pt,ah=8pt]{\x}{spiR.south}{amhd.north}}
\VC[co=2pt,ah=8pt]{1259}{amhd.north}{spiR.south}
\VC[cr=2.5pt,ah=9pt]{1327}{amhd.north}{xx1.south}
\foreach \x in {1841,1858.6,1877}{\VC[cb=3pt,ah=9pt]{\x}{spiH.south}{hvps.north}}
\foreach \x in {1933.6,1949.6}{\VC[cb=3pt,ah=9pt]{\x}{lvdH.south}{hvps.north}}
\VC[cb=3pt,ah=9pt]{1968.4}{hvps.north}{lvdH.south}
% central wiring
\draw[cg=1.2pt,ah=9pt] (ioA.south) |- (1090.5,908) -- (tsA1);
\draw[cg=1.6pt,ah=9pt] (spiB.south) |- (1859,842) -- (tsB1);
\draw[cg=1.6pt,ah=9pt] (ioB.south) |- (1877.5,822) -- (tsB2);
\draw[cg=1.4pt,ah=9pt] (fgio1.south) |- (1161,859) -- (tsA2);
\draw[cg=1.4pt,ah=9pt] (fgio2.south) |- (1936,761.7) -- (tsB3);
\draw[cg=1.4pt,ah=9pt] (fgspi2.south) |- (1948.7,840) -- (tsB4);
\draw[co=1pt,ta=6pt] (inS.south) |- (1287,1016.7) -- (1287,0 |- inL.north);
\draw[co=1pt,ta=6pt] (fgin.south) |- (1360.5,781.7) -- (1360.5,0 |- inL.north);
\draw[co=2pt,ab=9pt] (fgspi1.south) |- (1238,800.7) -- (lvR.north);
\draw[cg=1.4pt,ah=10pt] (ioC.south) |- (xx3.west);
\draw[co=3pt,ab=10pt] (spiA.south) -- (spiA.south |- 0,806.7) -| (lvL.north);
\foreach \x in {1264.5,1322.8,1360.5,1789}{\bump{\x}{800.7}{ol}{2}}
\foreach \y in {822,842}{\foreach \x in {1238,1264.5,1322.8,1360.5,1789}{\bump{\x}{\y}{gk}{1.6}}}
\foreach \x in {1238,1264.5,1322.8,1360.5}{\bump{\x}{859}{gk}{1.4}}
\bump{1360.5}{883}{gk}{1.4}
% PCM area connectors
\draw[co=3pt,ab=9pt] (iobig.east |- i2c1.west) -- (i2c1.west);
\T[fs={11.5}{13}]{739.4}{702.6}{TCA9539 (x74)}
\draw[co=3pt,ab=9pt] (i2c1.south) |- (650,810);
\draw[co=3pt,ab=9pt] (i2c2.south) |- (650,831);
\T[fs={11.5}{13}]{741}{801}{Ina3221 (x42, x43)}
\T[fs={11.5}{13}]{750}{825}{Ina3221 (x40, x41, x43)}
\T[fs={11.5}{13}]{753}{841}{Ina226 (x44, x45, x46)}
\node[dashO,inner sep=0pt,minimum width=45pt,minimum height=37pt] (jg) at (917.5,854.5) {};
\jmp{901}{842}{932}{866}{bl}{1}
\coordinate (regR) at (650,854.5);
\draw[cg=1.2pt,ah=9pt] (jg.west) -- (regR);
\draw[draw=black!50,line width=1pt] (916.5,0 |- sc.south) -- (916.5,0 |- jg.north);
% thermal + panels
\B[panel]{freq}{2072.4}{777}{2293}{941}{}
\T[anchor=west,fb={16}{16}]{2076.6}{791}{Relevant Frequencies}
\newcommand{\FQ}[3]{\T[anchor=west]{2076.6}{#1}{#2}\T[anchor=west]{2214}{#1}{#3}}
\FQ{829}{PCIe}{5 GHz}
\FQ{849}{Coaxpress  CXP-3}{3.125  GHz}
\FQ{869}{DDR4}{2.4  GHz}
\FQ{888}{SATA}{3  GHz}
\FQ{907.5}{USB 3.0}{5  GHz}
\FQ{926}{Gigabit Ethernet}{1  GHz}
\B[panel]{pcbf}{2072.4}{943}{2293}{1089}{}
\T[anchor=west,fb={16}{16}]{2076.6}{957}{PCB Features}
\newcommand{\PF}[3]{\T[anchor=west]{2076.6}{#1}{#2}\T[anchor=west]{2145}{#1}{#3}}
\PF{995.5}{Size:}{300mm x 250mm}
\PF{1015}{Thicness:}{2.8 mm}
\PF{1034}{Layers}{18}
\PF{1054}{Type}{Class 7}
\PF{1073.6}{Material}{FR408HR}
\draw[obd,line width=1.6pt] (2072,1097) rectangle (2236,1189);
\T[anchor=west,fs={17}{17}]{2083.5}{1114}{2 x Thermal Layers}
\T[anchor=west,fs={17}{17}]{2083.5}{1138}{6 x}
\node[circle,draw=bl,line width=8pt,fill=black!40,minimum size=29pt,inner sep=0pt] (via) at (2153,1144) {};
\coordinate (gt) at (2154,1255);
\draw[cb=4pt] (via.south) -- (2153,1175);
\draw[co=5pt] (2154,1172) -- (gt);
\gnd{2154}{1246}
\B[panel]{pnl1}{2322}{726}{2524.5}{943}{}
\T[anchor=west,fb={14}{14}]{2329.5}{738}{(HK) FPGA References}
\newcommand{\PA}[3]{\T[anchor=west,fs={14}{14}]{2335.4}{#1}{#2}\T[anchor=west,fs={14}{14}]{2366.4}{#1}{#3}}
\PA{755.7}{0v95}{\hspace{7pt}– VCCINT, VCCINT_IO,}
\T[anchor=west,fs={14}{14}]{2378}{773}{VCCBRAM}
\PA{790.5}{1v0}{– MGT AVCC}
\PA{807}{1v2}{– DDR4 Bank0}
\PA{824}{1v2}{– DDR4 Bank1}
\PA{842}{1v2}{– MGT}
\PA{860}{1v2}{–\hspace{4pt}Coaxpress_IC}
\PA{877}{1v8}{– VCCO}
\PA{894.5}{1v8}{– MGT}
\PA{912}{1v8}{– VCCAUX (GPIO)}
\PA{929}{2v5}{-- DDR4 Reference}
\B[panel]{pnl2}{2320}{955}{2521}{1100}{}
\T[anchor=west,fb={16}{16}]{2328}{968.6}{(HK) System}
\newcommand{\PB}[4][black!85]{\T[anchor=west,fs={16}{16}]{2334.7}{#2}{#3}\T[anchor=west,fs={16}{16},text=#1]{2370}{#2}{#4}}
\PB{987.6}{12V}{– Jetson SOM}
\PB{1007.5}{5V}{– SSD, USB}
\PB{1027}{3v3}{– General Ics}
\PB{1046}{24V}{–\hspace{5pt}Camera 1 (Amp)}
\PB{1065.7}{}{–\hspace{5pt}Camera 2 (Amp)}
\PB[rd]{1084.6}{}{–\hspace{5pt}Camera 3 (Amp)}
\B[panel]{pnl3}{2320}{1114}{2526}{1288}{}
\T[anchor=west,fb={16}{16}]{2324}{1132}{(HK) Internal SC (SOM)}
\foreach \y/\s in {1152/VDD_IN,1171/VDD_SYS_GPU,1191/VDD_SYS_SOC,1210/VDD_SYS_CPU,1229/VDD_SYS_DDR}{\T[anchor=west,fs={16}{16}]{2356.4}{\y}{- \s}}
\T[anchor=west,fb={15}{15}]{2324}{1267.7}{(HK) Internal thermal Sensor}
\B[panel]{pnl4}{2320}{1307}{2526}{1449}{}
\T[anchor=west,fb={16}{16}]{2324}{1328}{(HK) Internal FPGA}
\T[anchor=west,fs={16}{16}]{2334}{1348}{0v95 – VCCINT}
\T[anchor=west,fs={16}{16}]{2334}{1367}{1v8\hspace{5pt} –\hspace{5pt}VCCAUX}
\T[anchor=west,fs={16}{16}]{2334}{1387}{0v95 –\hspace{5pt}VCCBRAM}
\T[anchor=west,fb={15}{15}]{2324}{1425}{(HK) Internal thermal sensor}
% Legend
\T[fb={34}{34},text=black]{253}{1172}{Legend:}
\node[draw=black,line width=3pt,rounded corners=25pt,fill=white,inner sep=0pt,minimum width=391pt,minimum height=362pt,shd] (legend) at (228.5,1380) {};
\fill[white] (93,1196) rectangle (138,1203);
\jmp{100}{1207}{132}{1233}{rd!90!blue}{1}
\T[anchor=west,fs={19}{19}]{159.5}{1218}{Jumper}
\jmp{100}{1245}{129.4}{1269}{bl}{1}
\T[anchor=west,fs={19}{19}]{157.5}{1258}{Jumper (Only BreadBoard )}
\dia{121}{1304.5}
\T[anchor=west,fs={19}{19}]{159.5}{1303}{Selection for BreadBoard tests}
\draw[dashR] (82.4,1337) rectangle (148,1373);
\T[anchor=west,fs={19}{19}]{159.5}{1352.7}{Project Vaviants}
\draw[dashO] (82.4,1397) rectangle (148,1430);
\T[anchor=west,fs={19}{19}]{159.5}{1397}{Debugging Ports for Users}
\T[anchor=west,fs={19}{19}]{159.5}{1420}{(Only BreadBoard )}
\B[obox,fb={14}{14}]{brk}{88}{1447}{151}{1466}{x x ... x}
\T[anchor=west,fs={19}{19}]{164}{1445}{Breakout Box}
\T[anchor=west,fs={19}{19}]{164}{1468}{(Only BreadBoard )}
\CN[cr=3pt,ah=10pt]{90}{1498}{137}{1498}
\T[anchor=west,fs={19}{19}]{165}{1499}{SCIP Signal}
\CN[cb=3pt,ah=10pt]{90}{1531.7}{137}{1531.7}
\T[anchor=west,fs={19}{19}]{165}{1531}{IMaX+ Signal}
% OC
\B[panel]{oc}{429}{1420.7}{728.5}{1559}{}
\T[fb={15}{15}]{575}{1450}{Over Current Circuits}
\T[anchor=west,fs={16}{16},text=brn]{442.5}{1470}{A\hspace{5pt} – The OC is controlled by PCM Module}
\T[anchor=west,fs={16}{16},text=brn]{442.5}{1489}{B\hspace{7pt} – Cameras}
\T[anchor=west,fs={16}{16},text=bl]{442.5}{1508.7}{C\hspace{7pt} – Mechanics OR HVPS OR Heaters}
\T[anchor=west,fs={16}{16},text=rd]{442.5}{1528.7}{C\hspace{7pt} –}
\T[anchor=west,fs={16}{16},text=rd]{496}{1528.7}{PMU}
\T[anchor=west,fs={16}{16},text=rd]{548}{1528.7}{OR SMM}
\T[anchor=west,fs={16}{16},text=rd]{614.6}{1528.7}{OR Heaters}
\end{tikzpicture}
\end{document}
